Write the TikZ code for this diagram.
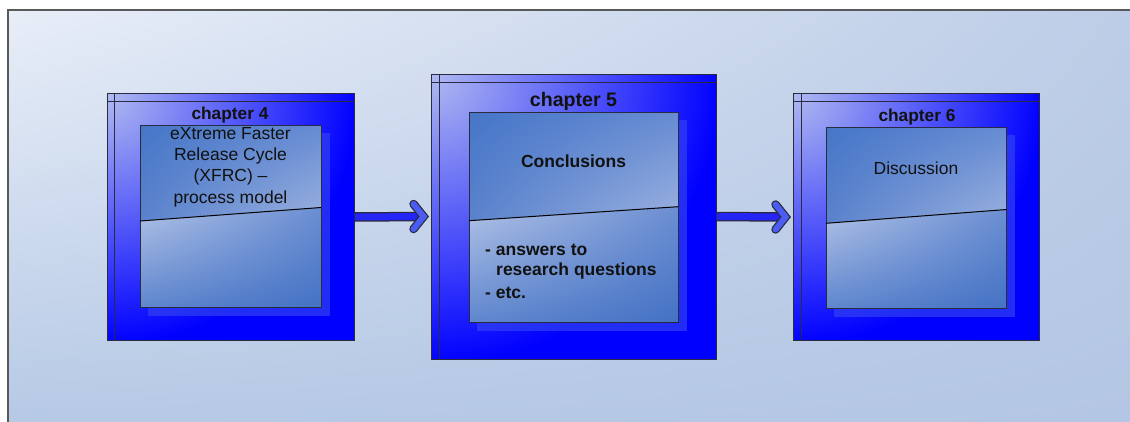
\documentclass[tikz,border=0pt]{standalone}
\usepackage{fontspec}
\setmainfont{Liberation Sans}
\usetikzlibrary{calc,shadings}
\definecolor{bgUL}{HTML}{E8EEF8}
\definecolor{bgUR}{HTML}{BDCDE7}
\definecolor{bgLL}{HTML}{B6C9E5}
\definecolor{bgLR}{HTML}{B3C6E3}
\definecolor{outerlight}{HTML}{B0BAF0}
\definecolor{upUL}{HTML}{4676C8}
\definecolor{upUR}{HTML}{668BD2}
\definecolor{upLL}{HTML}{5A82CC}
\definecolor{upLR}{HTML}{9CB2E0}
\definecolor{loUL}{HTML}{B2C3E6}
\definecolor{loUR}{HTML}{6B8ED2}
\definecolor{loLL}{HTML}{5F86CE}
\definecolor{loLR}{HTML}{4472C4}
\definecolor{shadowc}{HTML}{3040F2}
\definecolor{txt}{HTML}{111111}
\definecolor{edge}{HTML}{2A2A40}
\definecolor{shaftc}{HTML}{2424F4}
\definecolor{chevc}{HTML}{4A5CF2}
\begin{document}
\begin{tikzpicture}[x=1pt,y=-1pt,
  outerbox/.style={draw=edge, line width=0.9pt, inner sep=0pt,
    path picture={
      \fill[blue] (path picture bounding box.south west) rectangle (path picture bounding box.north east);
      \shade[inner color=outerlight, outer color=blue] (path picture bounding box.north west) circle (#1);}},
  frameline/.style={draw=edge, line width=0.9pt},
  upperpart/.style={upper left=upUL, upper right=upUR, lower left=upLL, lower right=upLR},
  lowerpart/.style={upper left=loUL, upper right=loUR, lower left=loLL, lower right=loLR},
  innerbox/.style={draw=edge, line width=0.9pt, inner sep=0pt},
  divider/.style={draw=black, line width=1pt},
  shadowbox/.style={fill=shadowc, fill opacity=0.7},
  ttl/.style={text=txt, font=\fontsize{17.3}{21}\selectfont\bfseries, inner sep=0pt},
  body/.style={text=txt, font=\fontsize{17.5}{21.2}\selectfont, inner sep=0pt, align=center},
  bodyb/.style={text=txt, font=\fontsize{17.5}{21.3}\selectfont\bfseries, inner sep=0pt},
  shaftout/.style={draw=edge, line width=9.5pt},
  shaftin/.style={draw=shaftc, line width=7pt},
  chevout/.style={draw=edge, line width=8.5pt, line join=miter, line cap=round},
  chevin/.style={draw=chevc, line width=6pt, line join=miter, line cap=round}
]
\useasboundingbox (0,0) rectangle (1130,421);
\fill[white] (0,0) rectangle (1130,421);
% background panel
\shade[upper left=bgUL, upper right=bgUR, lower left=bgLL, lower right=bgLR] (8,10) rectangle (1131,422);
\draw[draw=black!65, line width=1.4pt] (8,422) -- (8,10) -- (1131,10);

% ---------- chapter 4 ----------
\node[outerbox=250, minimum width=247pt, minimum height=247pt] (o4) at (230.5,217) {};
\draw[frameline] ($(o4.north west)+(0,8)$) -- ($(o4.north east)+(0,8)$);
\draw[frameline] ($(o4.north west)+(8,0)$) -- ($(o4.south west)+(8,0)$);
\fill[shadowbox] (148,133) rectangle (330,316);
\shade[upperpart] (140,125) -- (321,125) -- (321,207.5) -- (140,221) -- cycle;
\shade[lowerpart] (140,221) -- (321,207.5) -- (321,307) -- (140,307) -- cycle;
\node[innerbox, minimum width=181pt, minimum height=182pt] (i4) at (230.5,216) {};
\draw[divider] (140,221) -- (321,207.5);
\node[ttl] (t4) at (230,115) {chapter 4};
\node[body] (b4) at (230.5,167) {eXtreme Faster\\Release Cycle\\(XFRC) –\\process model};

% ---------- chapter 5 ----------
\node[outerbox=290, minimum width=285pt, minimum height=285pt] (o5) at (573.5,216.5) {};
\draw[frameline] ($(o5.north west)+(0,9)$) -- ($(o5.north east)+(0,9)$);
\draw[frameline] ($(o5.north west)+(9,0)$) -- ($(o5.south west)+(9,0)$);
\fill[shadowbox] (477,120) rectangle (687,331);
\shade[upperpart] (469,112) -- (678,112) -- (678,206.7) -- (469,220.7) -- cycle;
\shade[lowerpart] (469,220.7) -- (678,206.7) -- (678,322.5) -- (469,322.5) -- cycle;
\node[innerbox, minimum width=209pt, minimum height=210.5pt] (i5) at (573.5,217.25) {};
\draw[divider] (469,220.7) -- (678,206.7);
\node[ttl, font=\fontsize{19.6}{23}\selectfont\bfseries] (t5) at (573.5,101.5) {chapter 5};
\node[bodyb] (c5) at (573.5,161) {Conclusions};
\node[bodyb, anchor=west] (l51) at (485,250) {- answers to};
\node[bodyb, anchor=west] (l52) at (496,271) {research questions};
\node[bodyb, anchor=west] (l53) at (485,292.5) {- etc.};

% ---------- chapter 6 ----------
\node[outerbox=250, minimum width=246pt, minimum height=247pt] (o6) at (916,217) {};
\draw[frameline] ($(o6.north west)+(0,8.5)$) -- ($(o6.north east)+(0,8.5)$);
\draw[frameline] ($(o6.north west)+(8.5,0)$) -- ($(o6.south west)+(8.5,0)$);
\fill[shadowbox] (834,135) rectangle (1015,317);
\shade[upperpart] (826,127) -- (1006.5,127) -- (1006.5,209.5) -- (826,223.3) -- cycle;
\shade[lowerpart] (826,223.3) -- (1006.5,209.5) -- (1006.5,308.5) -- (826,308.5) -- cycle;
\node[innerbox, minimum width=180.5pt, minimum height=181.5pt] (i6) at (916.25,217.75) {};
\draw[divider] (826,223.3) -- (1006.5,209.5);
\node[ttl] (t6) at (917,117.5) {chapter 6};
\node[body] (c6) at (916,168) {Discussion};

% ---------- arrows ----------
\draw[shaftout] (o4.east) -- ($(o5.west)+(-8,0)$);
\draw[shaftin] ($(o4.east)+(0.5,0)$) -- ($(o5.west)+(-8,0)$);
\draw[chevout] ($(o5.west)+(-17,-12.5)$) -- ($(o5.west)+(-7,0)$) -- ($(o5.west)+(-17,12.5)$);
\draw[chevin] ($(o5.west)+(-17,-12.5)$) -- ($(o5.west)+(-7,0)$) -- ($(o5.west)+(-17,12.5)$);

\draw[shaftout] (o5.east) -- ($(o6.west)+(-8,0)$);
\draw[shaftin] ($(o5.east)+(0.5,0)$) -- ($(o6.west)+(-8,0)$);
\draw[chevout] ($(o6.west)+(-17,-12.5)$) -- ($(o6.west)+(-7,0)$) -- ($(o6.west)+(-17,12.5)$);
\draw[chevin] ($(o6.west)+(-17,-12.5)$) -- ($(o6.west)+(-7,0)$) -- ($(o6.west)+(-17,12.5)$);
\end{tikzpicture}
\end{document}
